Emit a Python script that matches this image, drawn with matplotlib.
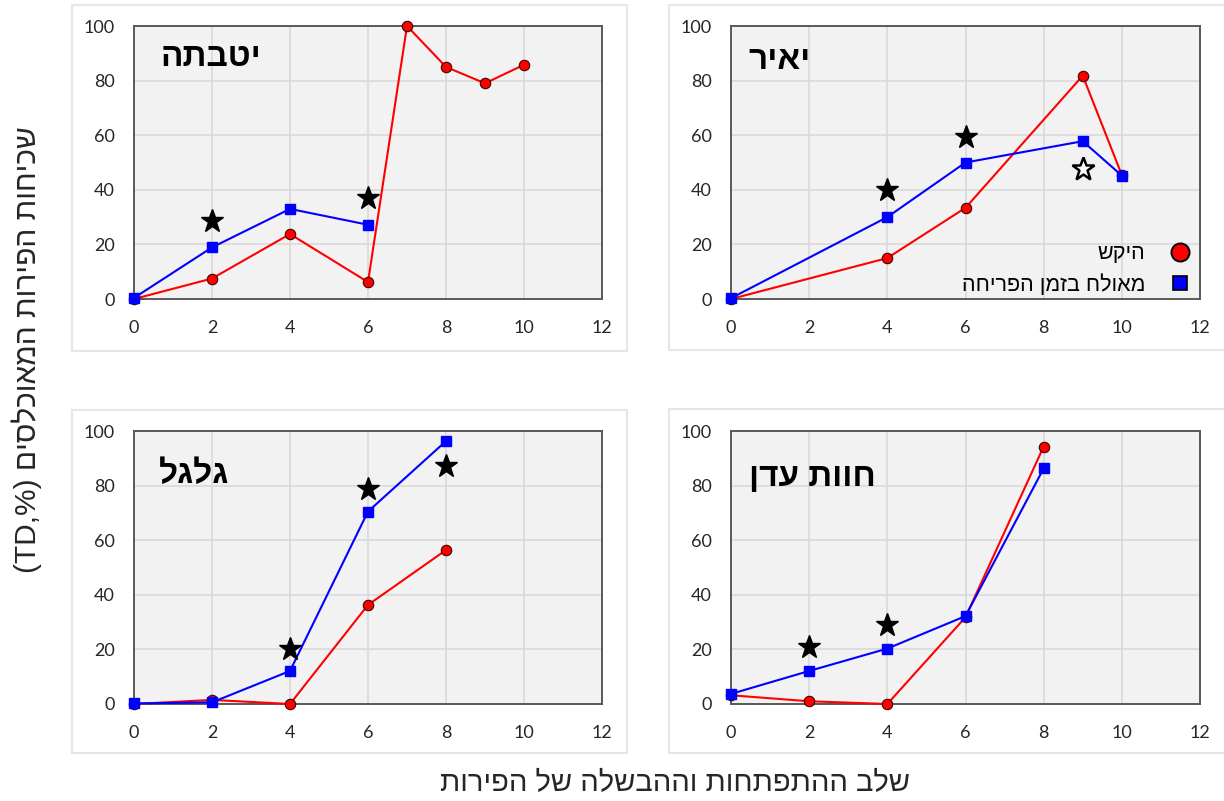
import matplotlib
matplotlib.use("Agg")
import matplotlib.pyplot as plt
from matplotlib.lines import Line2D
from matplotlib.patches import Rectangle


def heb(s):
    # matplotlib has no bidi support, so flip the Hebrew for display
    return s[::-1]


# data
sites = ["יטבתה", "יאיר", "גלגל", "חוות עדן"]

yotvata_ctrl_x = [0, 2, 4, 6, 7, 8, 9, 10]
yotvata_ctrl_y = [0, 7.5, 23.8, 6.2, 100, 85, 79, 85.8]
yotvata_poll_x = [0, 2, 4, 6]
yotvata_poll_y = [0.4, 18.9, 33, 27.2]
yotvata_star_x = [2, 6]
yotvata_star_y = [28.5, 37]

yair_ctrl_x = [0, 4, 6, 9, 10]
yair_ctrl_y = [0, 15, 33.4, 81.8, 45.4]
yair_poll_x = [0, 4, 6, 9, 10]
yair_poll_y = [0.3, 30, 50, 57.8, 45.2]
yair_star_x = [4, 6]
yair_star_y = [40, 59.5]
yair_open_star_x = [9]
yair_open_star_y = [47.8]

galgal_ctrl_x = [0, 2, 4, 6, 8]
galgal_ctrl_y = [0, 1.5, 0, 36.3, 56.4]
galgal_poll_x = [0, 2, 4, 6, 8]
galgal_poll_y = [0.2, 0.6, 12.1, 70.5, 96.3]
galgal_star_x = [4, 6, 8]
galgal_star_y = [20, 78.8, 87.3]

eden_ctrl_x = [0, 2, 4, 6, 8]
eden_ctrl_y = [3.2, 1, 0, 31.8, 94.3]
eden_poll_x = [0, 2, 4, 6, 8]
eden_poll_y = [3.7, 12.1, 20.3, 32.2, 86.3]
eden_star_x = [2, 4]
eden_star_y = [21, 28.8]

legend_labels = ["היקש", "מאולח בזמן הפריחה"]
ylabel = "שכיחות הפירות המאוכלסים"
xlabel = "שלב ההתפתחות וההבשלה של הפירות"

W, H = 1224, 801
fig = plt.figure(figsize=(W / 100, H / 100), dpi=100)
fig.patch.set_facecolor("white")


def fx(px):
    return px / W


def fy(py):
    return 1 - py / H


# chart-area frames (Excel style)
for (x0, y0, x1, y1) in [(72, 5, 627, 351), (669, 5, 1230, 350),
                         (72, 410, 627, 753), (669, 409, 1230, 753)]:
    fig.patches.append(Rectangle((fx(x0), fy(y1)), fx(x1 - x0), (y1 - y0) / H,
                                 transform=fig.transFigure, facecolor="white",
                                 edgecolor="#e6e6e6", linewidth=1.5, zorder=-5))

boxes = [(134, 26, 602, 299), (731, 26, 1200, 299),
         (134, 431, 602, 704), (731, 431, 1200, 704)]
axes = []
for (x0, y0, x1, y1) in boxes:
    ax = fig.add_axes([fx(x0), fy(y1), fx(x1 - x0), (y1 - y0) / H])
    ax.set_facecolor("#f2f2f2")
    ax.set_xlim(0, 12)
    ax.set_ylim(0, 100)
    ax.set_xticks(range(0, 13, 2))
    ax.set_yticks(range(0, 101, 20))
    ax.grid(True, color="#d9d9d9", linewidth=1.2)
    ax.set_axisbelow(True)
    for s in ax.spines.values():
        s.set_color("#595959")
        s.set_linewidth(1.4)
    ax.tick_params(length=0, labelsize=13, colors="#262626")
    ax.tick_params(axis="x", pad=15)
    ax.tick_params(axis="y", pad=14)
    for lab in ax.get_xticklabels() + ax.get_yticklabels():
        lab.set_family("Lato")
    axes.append(ax)

series = [
    (yotvata_ctrl_x, yotvata_ctrl_y, yotvata_poll_x, yotvata_poll_y, yotvata_star_x, yotvata_star_y),
    (yair_ctrl_x, yair_ctrl_y, yair_poll_x, yair_poll_y, yair_star_x, yair_star_y),
    (galgal_ctrl_x, galgal_ctrl_y, galgal_poll_x, galgal_poll_y, galgal_star_x, galgal_star_y),
    (eden_ctrl_x, eden_ctrl_y, eden_poll_x, eden_poll_y, eden_star_x, eden_star_y),
]
title_pos = [(0.056, 0.885), (0.036, 0.875), (0.054, 0.84), (0.038, 0.83)]

for ax, (cx, cy, px, py, sx, sy), name, (tx, ty) in zip(axes, series, sites, title_pos):
    ax.plot(cx, cy, color="#ff0000", linewidth=1.5, marker="o", markersize=7.5,
            markerfacecolor="#ff0000", markeredgecolor="#400000", markeredgewidth=0.8,
            clip_on=False, zorder=3)
    ax.plot(px, py, color="#0000ff", linewidth=1.5, marker="s", markersize=7.5,
            markerfacecolor="#0000ff", markeredgecolor="#0000ff",
            clip_on=False, zorder=4)
    ax.plot(sx, sy, linestyle="none", marker="*", markersize=17, color="black", zorder=5)
    ax.text(tx, ty, heb(name), transform=ax.transAxes, ha="left", va="center",
            fontsize=24, fontweight="bold", family="Liberation Sans", color="black")

axes[1].plot(yair_open_star_x, yair_open_star_y, linestyle="none", marker="*",
             markersize=17, markerfacecolor="white", markeredgecolor="black",
             markeredgewidth=1.8, zorder=5)

handles = [Line2D([], [], linestyle="none", marker="o", markersize=13,
                  markerfacecolor="#ff0000", markeredgecolor="black", markeredgewidth=1.4),
           Line2D([], [], linestyle="none", marker="s", markersize=9.5,
                  markerfacecolor="#0000ff", markeredgecolor="black", markeredgewidth=1.2)]
axes[1].legend(handles, [heb(t) for t in legend_labels], loc="lower right",
               markerfirst=False, frameon=False, handletextpad=0.6, labelspacing=0.45,
               borderaxespad=0.2, bbox_to_anchor=(1.03, -0.035),
               prop={"family": "Liberation Sans", "size": 15.5})

fig.text(fx(27), fy(350), "(TD,%) " + heb(ylabel), rotation=90, ha="center", va="center",
         fontsize=21.5, family="Liberation Sans", color="#262626")
fig.text(fx(675), fy(783), heb(xlabel), ha="center", va="center",
         fontsize=21, family="Liberation Sans", color="#262626")

fig.savefig("out.png", dpi=100)
